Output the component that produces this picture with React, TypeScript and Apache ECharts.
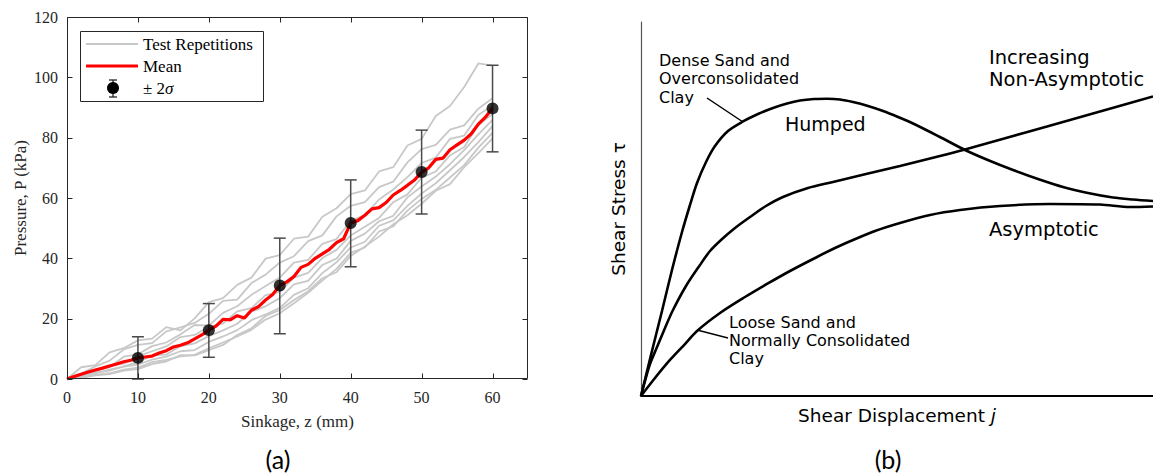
import React, { useEffect, useRef } from "react";
import * as echarts from "echarts";

// ---------- Panel (a) data ----------
const xTicksA = [0, 10, 20, 30, 40, 50, 60];
const yTicksA = [0, 20, 40, 60, 80, 100, 120];

const repZ = [0, 2, 4, 6, 8, 10, 12, 14, 16, 18, 20, 22, 24, 26, 28, 30, 32, 34, 36, 38, 40, 42, 44, 46, 48, 50, 52, 54, 56, 58, 60];
const rep1 = [0, 3.9, 4.6, 8.8, 10.2, 12.8, 13.4, 17.2, 16.1, 20.1, 25.5, 26.8, 31.2, 33.6, 39.9, 41.1, 46.5, 47.2, 53.8, 56.6, 61.3, 62.5, 68.8, 70.2, 77.4, 79.6, 87.2, 90.5, 96.8, 104.6, 103.9];
const rep2 = [0, 1.8, 4.2, 6.1, 9.8, 11.3, 11.9, 15.8, 17.1, 18.6, 21.6, 25.9, 26.3, 31.8, 34.6, 38.6, 40.7, 45.7, 47.6, 53.9, 57.4, 58.6, 63.6, 65.4, 71.8, 76.2, 77.6, 82.7, 84.1, 89.6, 93.1];
const rep3 = [0, 1.2, 3.1, 3.9, 7.4, 8.2, 10.9, 12.1, 14.8, 17.9, 17.7, 21.9, 24.1, 27.9, 30.8, 33.6, 38.6, 39.5, 44.8, 46.4, 52.4, 54.3, 59.5, 62.8, 66.9, 71.6, 73.4, 79.6, 80.7, 87.5, 90.7];
const rep4 = [0, 1.6, 2.4, 4.5, 5.1, 7.6, 9.2, 10.8, 13.9, 14.6, 17.3, 18.4, 22.4, 23.5, 27.8, 28.9, 33.6, 35.2, 40.1, 42.8, 47.6, 50.5, 53.4, 58.6, 61.2, 66.7, 68.8, 74.1, 76.9, 84.2, 87.8];
const rep5 = [0, 0.9, 2.1, 2.8, 4.2, 5.6, 7.8, 8.1, 10.9, 11.8, 14.2, 16.1, 18.3, 22.3, 24.1, 26.8, 31.4, 32.5, 37.8, 39.9, 45.8, 48.2, 52.3, 54.1, 60.2, 63.8, 67.1, 71.2, 75.9, 81.1, 85.9];
const rep6 = [0, 1.1, 1.9, 3.1, 4.1, 4.8, 6.4, 7.4, 9.2, 9.6, 12.3, 14.1, 16.2, 19.5, 21.4, 23.6, 27.9, 30.1, 35.1, 38.7, 43.6, 45.5, 50.8, 52.6, 57.4, 61.5, 64.9, 69.2, 73.6, 78.5, 83.8];
const rep7 = [0, 0.6, 1.4, 1.9, 3.1, 3.8, 5.6, 6.3, 7.5, 8.0, 10.2, 12.1, 14.1, 16.3, 19.7, 21.8, 25.1, 28.6, 32.6, 36.5, 41.8, 43.6, 48.9, 50.6, 55.8, 59.7, 62.7, 66.8, 70.9, 76.7, 81.6];
const rep8 = [0, 0.4, 1.2, 1.6, 2.8, 3.3, 4.9, 5.8, 7.9, 7.8, 9.6, 11.3, 14.6, 16.8, 20.9, 22.9, 26.2, 29.1, 33.4, 35.4, 40.8, 43.9, 47.2, 51.3, 54.3, 58.1, 62.4, 64.6, 70.2, 74.9, 79.8];
const repetitions = [rep1, rep2, rep3, rep4, rep5, rep6, rep7, rep8];

const meanZ = [0, 1, 2, 3, 4, 5, 6, 7, 8, 9, 10, 11, 12, 13, 14, 15, 16, 17, 18, 19, 20, 21, 22, 23, 24, 25, 26, 27, 28, 29, 30, 31, 32, 33, 34, 35, 36, 37, 38, 39, 40, 41, 42, 43, 44, 45, 46, 47, 48, 49, 50, 51, 52, 53, 54, 55, 56, 57, 58, 59, 60];
const meanP = [0, 0.8, 1.6, 2.3, 3, 3.6, 4.3, 5, 5.7, 6.2, 7, 7.3, 7.6, 8.6, 9.4, 10.6, 11.2, 12, 13.3, 14.6, 16.2, 17.5, 19.8, 19.6, 21, 20.2, 22.8, 24, 26.2, 28, 31, 32.2, 34, 37, 38, 40, 41.5, 43, 45.2, 46.5, 51.7, 52.5, 54.3, 56.4, 56.8, 58.5, 61, 62.5, 64.2, 66, 68.5, 70, 72.8, 73.2, 76, 77.6, 79.2, 81.3, 84.5, 86.8, 89.8];

const markerZ = [10, 20, 30, 40, 50, 60];
const markerMean = [7, 16.2, 31, 51.7, 68.6, 89.7];
const markerLow = [0, 7.2, 15, 37.2, 54.7, 75.3];
const markerHigh = [14, 25, 46.7, 66, 82.5, 104];

const xLabelA = "Sinkage, z (mm)";
const yLabelA = "Pressure, P (kPa)";
const legendLabels = ["Test Repetitions", "Mean", "± 2{s|σ}"];

// ---------- Panel (b) schematic curves (arbitrary units 0..100) ----------
const humpedX = [0, 1.95, 4.1, 6.05, 8.01, 9.57, 10.94, 12.7, 14.45, 16.99, 19.92, 22.85, 25.78, 28.52, 31.05, 33.79, 36.33, 38.87, 41.41, 44.34, 47.27, 50.2, 53.13, 58.2, 63.28, 67.97, 72.66, 77.54, 82.42, 87.3, 92.19, 96.09, 100];
const humpedY = [0, 10.96, 22.73, 33.69, 43.85, 51.07, 56.95, 62.57, 66.84, 70.86, 73.4, 75.4, 77.01, 78.21, 79.01, 79.41, 79.49, 79.28, 78.61, 77.54, 76.2, 74.6, 72.86, 69.39, 65.78, 62.97, 60.43, 58.02, 55.88, 54.28, 53.07, 52.54, 52.14];
const increasingX = [0, 0.78, 1.76, 3.13, 4.69, 6.25, 8.79, 11.52, 13.48, 15.63, 18.36, 21.29, 24.41, 27.73, 32.62, 37.5, 43.95, 50.59, 56.84, 63.28, 71.29, 79.3, 89.65, 100];
const increasingY = [0, 4.01, 8.56, 13.1, 18.18, 22.99, 29.41, 35.03, 38.77, 41.71, 44.92, 47.86, 50.8, 53.21, 55.61, 57.22, 59.36, 61.5, 63.64, 65.91, 68.98, 72.06, 76.07, 80.08];
const asymX = [0, 2.73, 5.66, 8.59, 10.94, 15.43, 20.31, 24.61, 29.1, 34.38, 37.89, 41.41, 45.7, 50.59, 56.45, 62.3, 70.12, 79.88, 89.65, 95.51, 100];
const asymY = [0, 4.81, 9.63, 13.9, 17.38, 22.19, 26.47, 29.95, 33.42, 37.17, 39.57, 41.71, 44.12, 46.26, 48.4, 49.73, 50.8, 51.34, 51.2, 50.53, 50.67];

const zip = (xs: number[], ys: number[]) => xs.map((x, i) => [x, ys[i]]);

const SERIF = "Liberation Serif";
const SANS = "DejaVu Sans";
const FRAME = "#262626";
const X_MAX_A = 65;
const Y_MAX_A = 120;

export default function App() {
  const ref = useRef<HTMLDivElement>(null);
  useEffect(() => {
    if (!ref.current) return;
    const chart = echarts.init(ref.current, undefined, { renderer: "svg" });

    const graySeries = repetitions.map((r) => ({
      name: "Test Repetitions",
      type: "line",
      xAxisIndex: 0,
      yAxisIndex: 0,
      data: zip(repZ, r),
      symbol: "none",
      lineStyle: { color: "#c8c8c8", width: 1.8 },
      z: 2,
    }));

    const curveStyle = { color: "#000", width: 2.6 };
    const txt = (x: number, y: number, text: string, fontSize: number, extra: any = {}) => ({
      type: "text",
      x,
      y,
      z: 100,
      style: {
        text,
        fontFamily: SANS,
        fontSize,
        fill: "#000",
        textVerticalAlign: "middle",
        ...extra,
      },
    });

    const curve = (name: string, xs: number[], ys: number[]) => ({
      name,
      type: "line",
      xAxisIndex: 1,
      yAxisIndex: 1,
      data: zip(xs, ys),
      symbol: "none",
      smooth: 0.3,
      lineStyle: curveStyle,
    });

    const option: any = {
      animation: false,
      grid: [
        { left: 67, top: 17, width: 461, height: 362 },
        { left: 641, top: 22, width: 512, height: 374 },
      ],
      xAxis: [
        {
          type: "value",
          gridIndex: 0,
          min: 0,
          max: X_MAX_A,
          interval: 10,
          position: "bottom",
          axisLine: { show: false },
          axisTick: { show: false },
          splitLine: { show: false },
          axisLabel: { showMaxLabel: false, color: FRAME, fontFamily: SERIF, fontSize: 16, margin: 10 },
          name: xLabelA,
          nameLocation: "middle",
          nameGap: 34,
          nameTextStyle: { color: FRAME, fontFamily: SERIF, fontSize: 17 },
        },
        {
          type: "value",
          gridIndex: 1,
          min: 0,
          max: 100,
          axisLine: { show: true, onZero: false, lineStyle: { color: "#000", width: 2 } },
          axisTick: { show: false },
          axisLabel: { show: false },
          splitLine: { show: false },
          name: "Shear Displacement {i|j}",
          nameLocation: "middle",
          nameGap: 10,
          nameTextStyle: {
            color: "#000",
            fontFamily: SANS,
            fontSize: 18.5,
            rich: { i: { fontStyle: "italic", fontFamily: SANS, fontSize: 18.5, color: "#000" } },
          },
        },
      ],
      yAxis: [
        {
          type: "value",
          gridIndex: 0,
          min: 0,
          max: Y_MAX_A,
          interval: 20,
          position: "left",
          axisLine: { show: false },
          axisTick: { show: false },
          splitLine: { show: false },
          axisLabel: { color: FRAME, fontFamily: SERIF, fontSize: 16, margin: 9 },
          name: yLabelA,
          nameLocation: "middle",
          nameGap: 38,
          nameTextStyle: { color: FRAME, fontFamily: SERIF, fontSize: 17 },
        },
        {
          type: "value",
          gridIndex: 1,
          min: 0,
          max: 100,
          axisLine: { show: true, onZero: false, lineStyle: { color: "#555", width: 1.2 } },
          axisTick: { show: false },
          axisLabel: { show: false },
          splitLine: { show: false },
          name: "Shear Stress τ",
          nameLocation: "middle",
          nameGap: 13,
          nameTextStyle: { color: "#000", fontFamily: SANS, fontSize: 18.5 },
        },
      ],
      series: [
        ...graySeries,
        {
          name: "Mean",
          type: "line",
          xAxisIndex: 0,
          yAxisIndex: 0,
          data: zip(meanZ, meanP),
          symbol: "none",
          lineStyle: { color: "#ff0000", width: 3.2 },
          z: 3,
        },
        {
          name: "± 2σ",
          type: "custom",
          xAxisIndex: 0,
          yAxisIndex: 0,
          data: markerZ.map((z, i) => [z, markerLow[i], markerHigh[i]]),
          encode: { x: 0, y: [1, 2] },
          z: 4,
          renderItem: (params: any, api: any) => {
            const x = api.value(0);
            const lo = api.coord([x, api.value(1)]);
            const hi = api.coord([x, api.value(2)]);
            const cap = 6;
            const style = { stroke: "#4a4a4a", lineWidth: 1.5 };
            return {
              type: "group",
              children: [
                { type: "line", shape: { x1: lo[0], y1: lo[1], x2: hi[0], y2: hi[1] }, style },
                { type: "line", shape: { x1: lo[0] - cap, y1: lo[1], x2: lo[0] + cap, y2: lo[1] }, style },
                { type: "line", shape: { x1: hi[0] - cap, y1: hi[1], x2: hi[0] + cap, y2: hi[1] }, style },
              ],
            };
          },
        },
        {
          name: "Mean points",
          type: "scatter",
          xAxisIndex: 0,
          yAxisIndex: 0,
          data: zip(markerZ, markerMean),
          symbol: "circle",
          symbolSize: 12,
          itemStyle: { color: "#000" },
          z: 5,
        },
        curve("Humped", humpedX, humpedY),
        curve("Increasing Non-Asymptotic", increasingX, increasingY),
        curve("Asymptotic", asymX, asymY),
      ],
      graphic: [
        // legend of panel (a)
        { type: "rect", z: 90, shape: { x: 80.5, y: 31.5, width: 183, height: 70 }, style: { fill: "#fff", stroke: FRAME, lineWidth: 1 } },
        { type: "line", z: 100, shape: { x1: 86, y1: 44, x2: 138, y2: 44 }, style: { stroke: "#c8c8c8", lineWidth: 2 } },
        { type: "line", z: 100, shape: { x1: 86, y1: 66, x2: 138, y2: 66 }, style: { stroke: "#ff0000", lineWidth: 3.2 } },
        { type: "line", z: 100, shape: { x1: 113, y1: 80, x2: 113, y2: 97 }, style: { stroke: FRAME, lineWidth: 1.3 } },
        { type: "line", z: 100, shape: { x1: 109, y1: 80, x2: 117, y2: 80 }, style: { stroke: FRAME, lineWidth: 1.3 } },
        { type: "line", z: 100, shape: { x1: 109, y1: 97, x2: 117, y2: 97 }, style: { stroke: FRAME, lineWidth: 1.3 } },
        { type: "circle", z: 101, shape: { cx: 113, cy: 88, r: 6 }, style: { fill: "#000" } },
        txt(143, 44, legendLabels[0], 17, { fontFamily: SERIF }),
        txt(143, 66, legendLabels[1], 17, { fontFamily: SERIF }),
        txt(143, 88, legendLabels[2], 17, {
          fontFamily: SERIF,
          rich: { s: { fontStyle: "italic", fontFamily: SERIF, fontSize: 17 } },
        }),
        // panel labels
        txt(278, 459, "(a)", 25, { fontFamily: "Lato", textAlign: "center" }),
        txt(888, 459, "(b)", 25, { fontFamily: "Lato", textAlign: "center" }),
        // panel (b) annotations
        txt(659, 60, "Dense Sand and", 16),
        txt(659, 78, "Overconsolidated", 16),
        txt(659, 97, "Clay", 16),
        { type: "line", z: 100, shape: { x1: 707, y1: 98, x2: 743, y2: 122 }, style: { stroke: "#000", lineWidth: 1.5 } },
        txt(785, 124, "Humped", 19),
        txt(989, 57, "Increasing", 19.5),
        txt(989, 79, "Non-Asymptotic", 19.5),
        txt(989, 229, "Asymptotic", 19.5),
        txt(729, 322, "Loose Sand and", 16),
        txt(729, 340, "Normally Consolidated", 16),
        txt(729, 358, "Clay", 16),
        { type: "line", z: 100, shape: { x1: 697, y1: 330, x2: 728, y2: 338 }, style: { stroke: "#000", lineWidth: 1.5 } },
      ],
    };

    chart.setOption(option);

    // box frame with inward ticks on all four sides, positioned through the axes' own scales
    const toPx = (v: number[]) => chart.convertToPixel({ gridIndex: 0 }, v) as number[];
    const bl = toPx([0, 0]);
    const tr = toPx([X_MAX_A, Y_MAX_A]);
    const L = Math.round(bl[0]) + 0.5;
    const B = Math.round(bl[1]) - 0.5;
    const R = Math.round(tr[0]) - 0.5;
    const T = Math.round(tr[1]) + 0.5;
    const fs = { stroke: FRAME, lineWidth: 1 };
    const frame: any[] = [
      { type: "polyline", z: 95, shape: { points: [[L, B], [L, T], [R, T], [R, B], [L, B]] }, style: { ...fs, fill: null } },
    ];
    xTicksA.forEach((v) => {
      const x = Math.round(toPx([v, 0])[0]) + 0.5;
      frame.push({ type: "line", z: 95, shape: { x1: x, y1: T, x2: x, y2: T + 5 }, style: fs });
      frame.push({ type: "line", z: 95, shape: { x1: x, y1: B, x2: x, y2: B - 5 }, style: fs });
    });
    yTicksA.forEach((v) => {
      const y = Math.round(toPx([0, v])[1]) + 0.5;
      frame.push({ type: "line", z: 95, shape: { x1: L, y1: y, x2: L + 5, y2: y }, style: fs });
      frame.push({ type: "line", z: 95, shape: { x1: R, y1: y, x2: R - 5, y2: y }, style: fs });
    });
    chart.setOption({ graphic: [...option.graphic, ...frame] });

    return () => chart.dispose();
  }, []);

  return (
    <div
      ref={ref}
      style={{ position: "absolute", left: 0, top: 0, width: 1153, height: 473, background: "#fff" }}
    />
  );
}
